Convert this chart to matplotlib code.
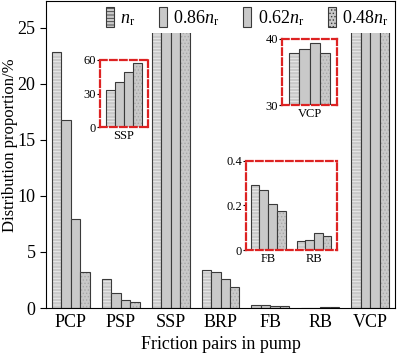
import matplotlib.pyplot as plt
import numpy as np

plt.rcParams['font.family'] = ['Liberation Serif', 'DejaVu Serif']
plt.rcParams['mathtext.fontset'] = 'custom'
plt.rcParams['mathtext.rm'] = 'Liberation Serif'
plt.rcParams['mathtext.it'] = 'Liberation Serif:italic'
plt.rcParams['hatch.linewidth'] = 0.6

# data (percent)
pairs = ['PCP', 'PSP', 'SSP', 'BRP', 'FB', 'RB', 'VCP']
speeds = [r'$n_\mathrm{r}$', r'0.86$n_\mathrm{r}$', r'0.62$n_\mathrm{r}$', r'0.48$n_\mathrm{r}$']
v_nr = [22.8, 2.6, 33.5, 3.4, 0.293, 0.039, 37.8]
v_086 = [16.8, 1.3, 40.2, 3.2, 0.268, 0.044, 38.5]
v_062 = [7.9, 0.75, 49.2, 2.55, 0.207, 0.075, 39.4]
v_048 = [3.2, 0.55, 57.0, 1.9, 0.174, 0.063, 37.8]
series = [v_nr, v_086, v_062, v_048]

face = '#c9c9c9'
hatches = ['-----', '', '', '.....']
hatch_col = ['#eeeeee', face, face, '#a8a8a8']
edge = '#3a3a3a'
w = 0.19


def draw_bars(ax, xs, vals_list):
    for i, vals in enumerate(vals_list):
        pos = np.asarray(xs) + (i - 1.5) * w
        ax.bar(pos, vals, w, color=face, edgecolor=hatch_col[i], hatch=hatches[i], linewidth=0)
        ax.bar(pos, vals, w, fill=False, edgecolor=edge, linewidth=0.8)


fig = plt.figure(figsize=(4.0, 3.59), dpi=100)
ax = fig.add_axes([0.115, 0.142, 0.8725, 0.856])
x = np.arange(len(pairs))
draw_bars(ax, x, series)
ax.set_xlim(-0.5, 6.5)
ax.set_ylim(0, 27.4)
ax.set_yticks([0, 5, 10, 15, 20, 25])
ax.set_xticks(x)
ax.set_xticklabels(pairs)
ax.tick_params(axis='x', length=0, labelsize=13, pad=4)
ax.tick_params(axis='y', direction='out', length=4, labelsize=13)
ax.set_xlabel('Friction pairs in pump', fontsize=13)
ax.set_ylabel('Distribution proportion/%', fontsize=12)
ax.yaxis.set_label_coords(-0.08, 0.531)

# legend handles
handles = []
for i in range(4):
    h = plt.Rectangle((0, 0), 1, 1, facecolor=face, edgecolor=edge, hatch=hatches[i], linewidth=0.8)
    handles.append(h)
leg = ax.legend(handles, speeds, loc='upper right', ncol=4, frameon=True, fontsize=13,
                handlelength=0.45, handleheight=1.3, handletextpad=0.35, columnspacing=1.3,
                borderaxespad=0.05, borderpad=0.3, bbox_to_anchor=(1.0, 1.0))
leg.get_frame().set_edgecolor('none')
leg.get_frame().set_facecolor('white')
leg.get_frame().set_alpha(1)


def style_inset(iax):
    for s in iax.spines.values():
        s.set_edgecolor('#dd2222')
        s.set_linestyle((0, (3, 1.5)))
        s.set_linewidth(1.6)
    iax.tick_params(axis='x', length=0, labelsize=9, pad=2)
    iax.tick_params(axis='y', length=2, labelsize=9, pad=1)


# SSP inset
a1 = fig.add_axes([0.25, 0.646, 0.12, 0.187])
draw_bars(a1, [0], [[s[2]] for s in series])
a1.set_xlim(-0.52, 0.52)
a1.set_ylim(0, 60)
a1.set_yticks([0, 30, 60])
a1.set_xticks([0])
a1.set_xticklabels(['SSP'])
style_inset(a1)

# VCP inset
a2 = fig.add_axes([0.705, 0.7075, 0.1375, 0.184])
draw_bars(a2, [0], [[s[6]] for s in series])
a2.set_xlim(-0.5, 0.5)
a2.set_ylim(30, 40)
a2.set_yticks([30, 40])
a2.set_xticks([0])
a2.set_xticklabels(['VCP'])
style_inset(a2)

# FB / RB inset
a3 = fig.add_axes([0.615, 0.3036, 0.2275, 0.248])
draw_bars(a3, [0, 1], [[s[4], s[5]] for s in series])
a3.set_xlim(-0.48, 1.5)
a3.set_ylim(0, 0.4)
a3.set_yticks([0, 0.2, 0.4])
a3.set_yticklabels(['0', '0.2', '0.4'])
a3.set_xticks([0, 1])
a3.set_xticklabels(['FB', 'RB'])
style_inset(a3)

fig.savefig('out.png', dpi=100)
